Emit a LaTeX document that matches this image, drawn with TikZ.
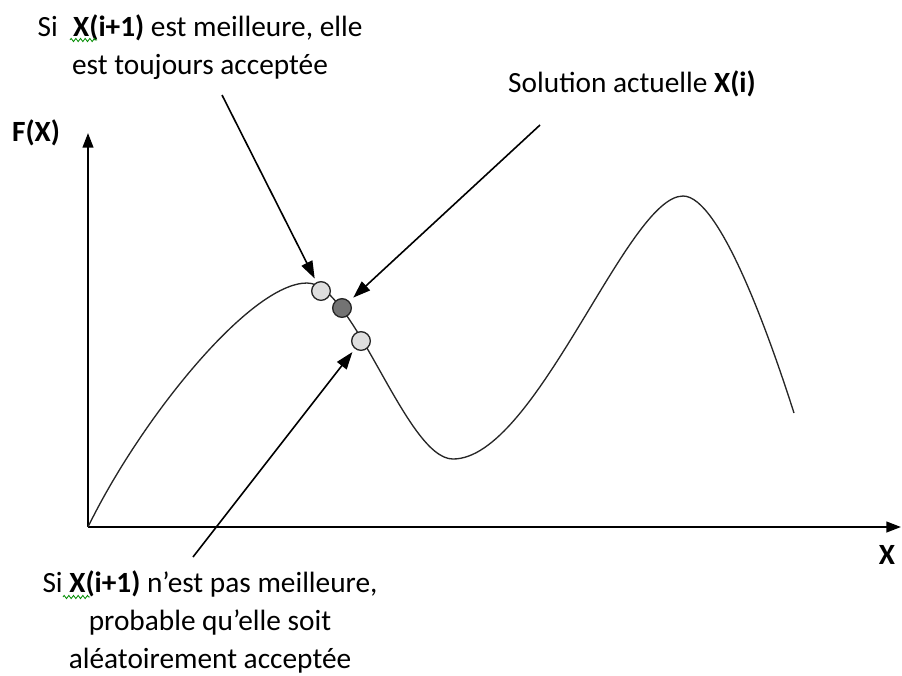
\documentclass[tikz,border=0pt]{standalone}
\usepackage{fontspec}
\setmainfont{Carlito}
\usetikzlibrary{arrows.meta,decorations.pathmorphing}
\begin{document}
\begin{tikzpicture}[x=0.75pt,y=-0.75pt,
  axisline/.style={line width=1.6pt,-{Triangle[length=11pt,width=8pt]}},
  curveline/.style={line width=1pt,draw=black!85},
  pointer/.style={line width=1.2pt,-{Triangle[length=13pt,width=9pt]}},
  lightdot/.style={circle,draw=black!85,line width=1pt,fill=black!13,minimum size=14pt,inner sep=0pt},
  darkdot/.style={circle,draw=black!85,line width=1pt,fill=black!55,minimum size=14pt,inner sep=0pt},
  lbl/.style={font=\fontsize{22pt}{28.5pt}\selectfont,align=center,inner sep=0pt},
  squig/.style={draw=green!55!black,line width=0.6pt,decorate,decoration={zigzag,amplitude=1.2pt,segment length=3.5pt}}
]
\useasboundingbox (0,0) rectangle (902,675);
% axes
\coordinate (O) at (88,527);
\coordinate (ytip) at (88,133);
\coordinate (xtip) at (901,527);
\draw[axisline] (O) -- (ytip);
\draw[axisline] (O) -- (xtip);
\node[lbl,font=\fontsize{22pt}{26pt}\selectfont\bfseries] (fx) at (36,133) {F(X)};
\node[lbl,font=\fontsize{22pt}{26pt}\selectfont\bfseries] (xl) at (887,555) {X};
% curve
\coordinate (peak1) at (307,283);
\coordinate (low) at (453,459);
\coordinate (peak2) at (683,196);
\coordinate (cend) at (794,413);
\draw[curveline] (O) .. controls (140,420) and (250,283) .. (peak1)
  .. controls (354,283) and (406,459) .. (low)
  .. controls (536,459) and (627,196) .. (peak2)
  .. controls (720,196) and (770,338) .. (cend);
% points
\node[lightdot] (c1) at (321,291) {};
\node[darkdot] (c2) at (342,308) {};
\node[lightdot] (c3) at (361,341) {};
% texts
\node[lbl] (t1) at (200,47) {Si\hspace{0.3em} \textbf{X(i+1)} est meilleure, elle\\est toujours acceptée};
\node[lbl] (t2) at (632,84) {Solution actuelle \textbf{X(i)}};
\node[lbl] (t3) at (210,622) {Si \textbf{X(i+1)} n’est pas meilleure,\\probable qu’elle soit\\aléatoirement acceptée};
% pointers
\coordinate (a1) at (222,95);
\coordinate (a2) at (540,125);
\coordinate (a3) at (193,557);
\draw[pointer,shorten >=3pt] (a1) -- (c1);
\draw[pointer,shorten >=4pt] (a2) -- (c2);
\draw[pointer,shorten >=3pt] (a3) -- (c3);
% spell-check squiggles
\draw[squig] (70,40) -- (97,40);
\draw[squig] (63,597) -- (90,597);
\end{tikzpicture}
\end{document}
